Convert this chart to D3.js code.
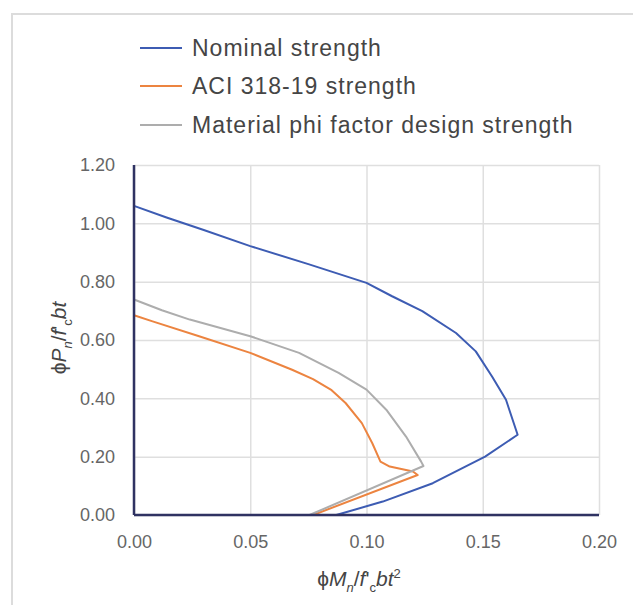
<!DOCTYPE html>
<html>
<head>
<meta charset="utf-8">
<script src="https://cdn.jsdelivr.net/npm/d3@7"></script>
<style>
	body { margin: 0; background: #fff; }
	text { font-family: 'Liberation Sans', Arial, sans-serif; }
</style>
</head>
<body>
<svg id="chart"></svg>
<script>
// Interaction diagram, normalised moment vs normalised axial load
const seriesNames = ['Nominal strength', 'ACI 318-19 strength', 'Material phi factor design strength'];

const nominalM = [0, 0.014, 0.030, 0.050, 0.075, 0.100, 0.111, 0.124, 0.1385, 0.147, 0.154, 0.160, 0.165, 0.151, 0.1285, 0.107, 0.087];
const nominalP = [1.06, 1.02, 0.977, 0.922, 0.86, 0.796, 0.750, 0.699, 0.624, 0.561, 0.475, 0.395, 0.275, 0.200, 0.109, 0.046, 0.0];

const aciM = [0, 0.008, 0.028, 0.050, 0.068, 0.077, 0.085, 0.091, 0.098, 0.1025, 0.106, 0.110, 0.120, 0.122, 0.077];
const aciP = [0.685, 0.664, 0.613, 0.556, 0.498, 0.466, 0.428, 0.384, 0.315, 0.246, 0.183, 0.166, 0.149, 0.137, 0.0];

const materialM = [0, 0.012, 0.024, 0.050, 0.071, 0.088, 0.100, 0.1085, 0.117, 0.1235, 0.1245, 0.0755];
const materialP = [0.739, 0.702, 0.670, 0.613, 0.556, 0.487, 0.430, 0.361, 0.269, 0.183, 0.168, 0.0];

const xTicks = [0, 0.05, 0.10, 0.15, 0.20];
const yTicks = [0, 0.2, 0.4, 0.6, 0.8, 1.0, 1.2];

const config = {
	containerWidth: 633,
	containerHeight: 605,
	margin: { top: 165, right: 34, bottom: 90, left: 134 },
	colors: ['#3d5cb3', '#ec8440', '#adadad'],
};

const width = config.containerWidth - config.margin.left - config.margin.right;
const height = config.containerHeight - config.margin.top - config.margin.bottom;

const svg = d3
	.select('#chart')
	.attr('width', config.containerWidth)
	.attr('height', config.containerHeight);

// light frame round the chart (right/bottom edges fall outside the picture)
svg.append('rect')
	.attr('x', 12)
	.attr('y', 14)
	.attr('width', 700)
	.attr('height', 700)
	.attr('fill', 'none')
	.attr('stroke', '#dcdcdc')
	.attr('stroke-width', 2);

const chart = svg
	.append('g')
	.attr('transform', `translate(${config.margin.left},${config.margin.top})`);

const xScale = d3.scaleLinear().domain([0, 0.2]).range([0, width]);
const yScale = d3.scaleLinear().domain([0, 1.2]).range([height, 0]);

// gridlines
chart.append('g')
	.call(d3.axisLeft(yScale).tickValues(yTicks).tickSize(-width).tickFormat(''))
	.call((g) => g.select('.domain').remove())
	.selectAll('line')
	.attr('stroke', '#dfdfdf')
	.attr('stroke-width', 1.5);

chart.append('g')
	.call(d3.axisBottom(xScale).tickValues(xTicks).tickSize(height).tickFormat(''))
	.call((g) => g.select('.domain').remove())
	.selectAll('line')
	.attr('stroke', '#dfdfdf')
	.attr('stroke-width', 1.5);

// tick labels
const xAxisG = chart.append('g')
	.attr('transform', `translate(0,${height})`)
	.call(d3.axisBottom(xScale).tickValues(xTicks).tickSize(0).tickPadding(20).tickFormat(d3.format('.2f')));
xAxisG.select('.domain').remove();
xAxisG.selectAll('text')
	.attr('font-size', 18)
	.attr('fill', '#666')
	.style('font-family', "'Liberation Sans', Arial, sans-serif");

const yAxisG = chart.append('g')
	.call(d3.axisLeft(yScale).tickValues(yTicks).tickSize(0).tickPadding(19).tickFormat(d3.format('.2f')));
yAxisG.select('.domain').remove();
yAxisG.selectAll('text')
	.attr('font-size', 18)
	.attr('fill', '#666')
	.style('font-family', "'Liberation Sans', Arial, sans-serif");

// series
const series = [
	{ name: seriesNames[0], m: nominalM, p: nominalP },
	{ name: seriesNames[1], m: aciM, p: aciP },
	{ name: seriesNames[2], m: materialM, p: materialP },
];

const line = d3.line()
	.x((d) => xScale(d[0]))
	.y((d) => yScale(d[1]));

chart.selectAll('.curve')
	.data(series)
	.join('path')
	.attr('class', 'curve')
	.attr('fill', 'none')
	.attr('stroke', (d, i) => config.colors[i])
	.attr('stroke-width', 2)
	.attr('stroke-linejoin', 'round')
	.attr('d', (d) => line(d.m.map((m, i) => [m, d.p[i]])));

// axis lines on top
chart.append('line')
	.attr('x1', 0).attr('x2', width)
	.attr('y1', height).attr('y2', height)
	.attr('stroke', '#2f3262')
	.attr('stroke-width', 2.5);
chart.append('line')
	.attr('x1', 0).attr('x2', 0)
	.attr('y1', 0).attr('y2', height)
	.attr('stroke', '#2f3262')
	.attr('stroke-width', 2.5);

// legend
const legend = svg.append('g').attr('transform', 'translate(140,0)');
const legendRows = [48, 86, 125];

legend.selectAll('.legend-line')
	.data(series)
	.join('line')
	.attr('class', 'legend-line')
	.attr('x1', 0).attr('x2', 42)
	.attr('y1', (d, i) => legendRows[i])
	.attr('y2', (d, i) => legendRows[i])
	.attr('stroke', (d, i) => config.colors[i])
	.attr('stroke-width', 2);

legend.selectAll('.legend-text')
	.data(series)
	.join('text')
	.attr('class', 'legend-text')
	.attr('x', 52)
	.attr('y', (d, i) => legendRows[i])
	.attr('dy', '0.35em')
	.attr('font-size', 23)
	.attr('letter-spacing', 1)
	.attr('fill', '#454545')
	.text((d) => d.name);

// axis titles with sub/superscripts
function addTitle(el, parts) {
	parts.forEach((p) => {
		el.append('tspan')
			.attr('font-style', p.italic ? 'italic' : 'normal')
			.attr('font-size', p.size || 21)
			.attr('dy', p.dy || 0)
			.text(p.t);
	});
}

const xTitle = svg.append('text')
	.attr('x', 359)
	.attr('y', 586)
	.attr('text-anchor', 'middle')
	.attr('fill', '#454545');
addTitle(xTitle, [
	{ t: 'ϕ' },
	{ t: 'M', italic: true },
	{ t: 'n', italic: true, size: 13, dy: 6 },
	{ t: '/', dy: -6 },
	{ t: 'f', italic: true },
	{ t: "'" },
	{ t: 'c', size: 13, dy: 6 },
	{ t: 'bt', italic: true, dy: -6 },
	{ t: '2', size: 13, dy: -8 },
]);

const yTitle = svg.append('text')
	.attr('transform', 'translate(66,338) rotate(-90)')
	.attr('text-anchor', 'middle')
	.attr('fill', '#454545');
addTitle(yTitle, [
	{ t: 'ϕ' },
	{ t: 'P', italic: true },
	{ t: 'n', italic: true, size: 13, dy: 6 },
	{ t: '/', dy: -6 },
	{ t: 'f', italic: true },
	{ t: "'" },
	{ t: 'c', size: 13, dy: 6 },
	{ t: 'bt', italic: true, dy: -6 },
]);
</script>
</body>
</html>
